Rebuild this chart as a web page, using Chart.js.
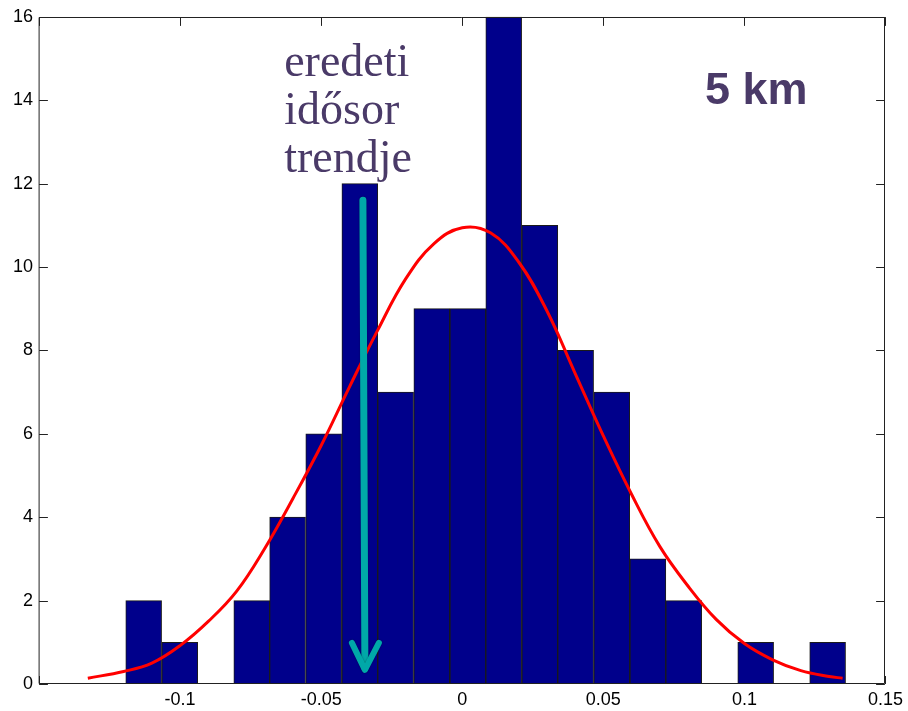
<!DOCTYPE html>
<html>
<head>
<meta charset="utf-8">
<script src="https://cdn.jsdelivr.net/npm/chart.js@4/dist/chart.umd.min.js"></script>
<style>
  html, body { margin: 0; padding: 0; background: #fff; }
  #wrap { width: 908px; height: 711px; position: relative; }
</style>
</head>
<body>
<div id="wrap"><canvas id="histChart" width="908" height="711"></canvas></div>
<script>
// histogram bins (centres) and counts
const binCenters = [-0.1129, -0.1001, -0.0874, -0.0746, -0.0619, -0.0491, -0.0363, -0.0236, -0.0108, 0.0020,
                    0.0147, 0.0275, 0.0402, 0.0530, 0.0658, 0.0785, 0.0913, 0.1040, 0.1168, 0.1295];
const binCounts = [2, 1, 0, 2, 4, 6, 12, 7, 9, 9, 16, 11, 8, 7, 3, 2, 0, 1, 0, 1];

// fitted normal curve, sampled
const curveX = [-0.1327, -0.12, -0.11, -0.10, -0.09, -0.08, -0.07, -0.06, -0.05, -0.04,
                -0.03, -0.02, -0.01, 0.00, 0.01, 0.02, 0.03, 0.04, 0.05, 0.06,
                0.07, 0.08, 0.09, 0.10, 0.11, 0.12, 0.13, 0.1348];
const curveY = [0.14, 0.30, 0.50, 0.92, 1.50, 2.22, 3.25, 4.45, 5.72, 7.12,
                8.48, 9.72, 10.56, 10.94, 10.82, 10.12, 8.95, 7.45, 5.95, 4.55,
                3.30, 2.35, 1.55, 0.97, 0.58, 0.32, 0.18, 0.14];

const xTicks = [-0.15, -0.1, -0.05, 0, 0.05, 0.1, 0.15];
const yTicks = [0, 2, 4, 6, 8, 10, 12, 14, 16];

// trend arrow (data coords) and text notes
const trendArrow = { x0: -0.0352, y0: 11.6, x1: -0.0345, y1: 0.29 };
const trendLines = ["eredeti", "idősor", "trendje"];
const trendPos = { x: -0.0631, y: 14.57 };
const distLabel = "5 km";
const distPos = { x: 0.0860, y: 13.90 };

Chart.defaults.font.family = "'Liberation Sans', Arial, sans-serif";
Chart.defaults.font.size = 18;
Chart.defaults.color = "#000";

const frame = {
  id: "frame",
  beforeDatasetsDraw(chart) {
    // bottom ticks sit under the bars
    const { ctx, chartArea: a, scales: { x } } = chart;
    ctx.save();
    ctx.strokeStyle = "#222";
    ctx.lineWidth = 1;
    ctx.beginPath();
    xTicks.forEach(v => {
      const px = Math.round(x.getPixelForValue(v)) + 0.5;
      ctx.moveTo(px, a.bottom);
      ctx.lineTo(px, a.bottom - 8);
    });
    ctx.stroke();
    ctx.restore();
  },
  afterDatasetsDraw(chart) {
    const { ctx, chartArea: a, scales: { x, y } } = chart;
    ctx.save();

    // arrow
    const ax0 = x.getPixelForValue(trendArrow.x0), ay0 = y.getPixelForValue(trendArrow.y0);
    const ax1 = x.getPixelForValue(trendArrow.x1), ay1 = y.getPixelForValue(trendArrow.y1);
    ctx.strokeStyle = "#00a8a8";
    ctx.lineCap = "round";
    ctx.lineJoin = "round";
    ctx.shadowColor = "rgba(0,0,0,0.35)";
    ctx.shadowBlur = 2;
    ctx.lineWidth = 7;
    ctx.beginPath();
    ctx.moveTo(ax0, ay0);
    ctx.lineTo(ax1, ay1 - 4);
    ctx.stroke();
    ctx.lineWidth = 6;
    ctx.beginPath();
    ctx.moveTo(ax1 - 13, ay1 - 29);
    ctx.lineTo(ax1, ay1 - 2);
    ctx.lineTo(ax1 + 14, ay1 - 29);
    ctx.stroke();
    ctx.shadowBlur = 0;
    ctx.shadowColor = "transparent";

    // box and inner ticks
    ctx.strokeStyle = "#222";
    ctx.lineWidth = 1;
    const L = Math.round(a.left) + 0.5, R = Math.round(a.right) - 0.5;
    const T = Math.round(a.top) + 0.5, B = Math.round(a.bottom) - 0.5;
    ctx.strokeRect(L, T, R - L, B - T);
    ctx.beginPath();
    yTicks.forEach(v => {
      const py = Math.round(y.getPixelForValue(v)) + 0.5;
      ctx.moveTo(L, py); ctx.lineTo(L + 8, py);
      ctx.moveTo(R, py); ctx.lineTo(R - 8, py);
    });
    xTicks.forEach(v => {
      const px = Math.round(x.getPixelForValue(v)) + 0.5;
      ctx.moveTo(px, T); ctx.lineTo(px, T + 8);
    });
    ctx.stroke();

    // notes
    ctx.fillStyle = "#4a3a68";
    ctx.textBaseline = "alphabetic";
    ctx.textAlign = "left";
    ctx.font = "46px 'Liberation Serif', 'Times New Roman', serif";
    const tx = x.getPixelForValue(trendPos.x), ty = y.getPixelForValue(trendPos.y);
    trendLines.forEach((s, i) => ctx.fillText(s, tx, ty + i * 48));
    ctx.font = "bold 45px 'Liberation Sans', Arial, sans-serif";
    ctx.fillText(distLabel, x.getPixelForValue(distPos.x), y.getPixelForValue(distPos.y));
    ctx.restore();
  }
};

new Chart(document.getElementById("histChart"), {
  type: "bar",
  data: {
    datasets: [
      {
        type: "line",
        data: curveX.map((v, i) => ({ x: v, y: curveY[i] })),
        borderColor: "#ff0000",
        borderWidth: 3,
        pointRadius: 0,
        tension: 0.4,
        order: 0
      },
      {
        type: "bar",
        data: binCenters.map((v, i) => ({ x: v, y: binCounts[i] })),
        backgroundColor: "#00008b",
        borderColor: "#1a1a1a",
        borderWidth: 1,
        borderSkipped: "start",
        barPercentage: 1,
        categoryPercentage: 1,
        order: 1
      }
    ]
  },
  options: {
    responsive: false,
    animation: false,
    layout: { padding: { top: 15, right: 20, left: 0, bottom: 0 } },
    plugins: { legend: { display: false }, tooltip: { enabled: false } },
    scales: {
      x: {
        type: "linear",
        min: -0.15,
        max: 0.15,
        offset: false,
        afterBuildTicks: axis => { axis.ticks = xTicks.map(v => ({ value: v })); },
        afterFit: axis => { axis.height = 27; },
        ticks: {
          autoSkip: false,
          maxRotation: 0,
          padding: 5,
          callback: v => (Math.abs(v + 0.15) < 1e-9 ? "" : String(Math.round(v * 100) / 100))
        },
        grid: { display: false, drawTicks: false },
        border: { display: false }
      },
      y: {
        min: 0,
        max: 16,
        afterBuildTicks: axis => { axis.ticks = yTicks.map(v => ({ value: v })); },
        afterFit: axis => { axis.width = 39; },
        ticks: { padding: 6 },
        grid: { display: false, drawTicks: false },
        border: { display: false }
      }
    }
  },
  plugins: [frame]
});
</script>
</body>
</html>
